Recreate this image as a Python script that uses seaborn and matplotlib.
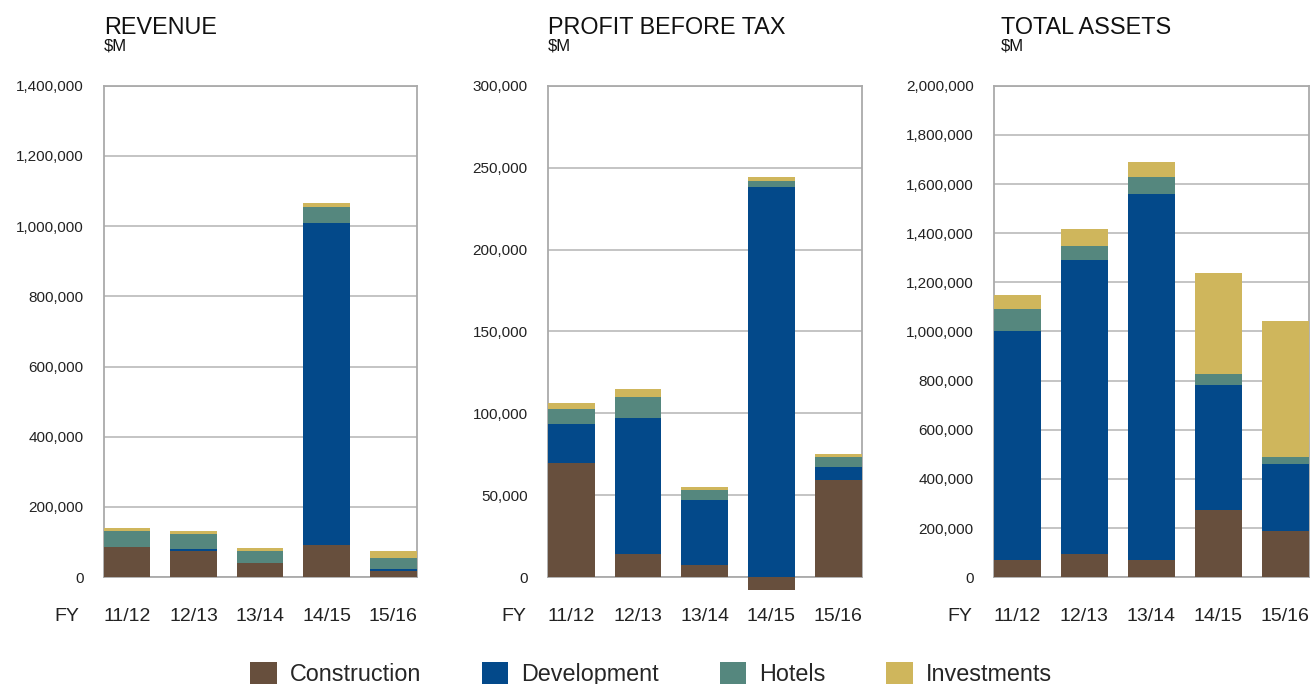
import numpy as np
import seaborn as sns
import matplotlib.pyplot as plt
from matplotlib.ticker import FuncFormatter
from matplotlib.patches import Patch

years = ['11/12', '12/13', '13/14', '14/15', '15/16']
segments = ['Construction', 'Development', 'Hotels', 'Investments']
colors = ['#674f3d', '#03498a', '#55877e', '#cfb65c']

# valores ($M)
revenue_construction = [85500, 74100, 39900, 91200, 17100]
revenue_development = [0, 5700, 0, 917600, 5700]
revenue_hotels = [45600, 42700, 34200, 45600, 31300]
revenue_investments = [9400, 8600, 8500, 11300, 20000]

profit_construction = [69500, 14000, 7300, -7700, 59100]
profit_development = [23800, 82900, 39600, 238300, 7900]
profit_hotels = [9100, 12800, 6100, 3600, 6100]
profit_investments = [3700, 4900, 1800, 2500, 2400]

assets_construction = [70400, 94800, 70400, 273800, 188400]
assets_development = [931600, 1196000, 1488900, 508500, 272500]
assets_hotels = [89500, 56900, 69100, 44700, 28500]
assets_investments = [56900, 69200, 61100, 410900, 553200]

panels = [
    ('REVENUE', [revenue_construction, revenue_development, revenue_hotels, revenue_investments], 1400000, 200000),
    ('PROFIT BEFORE TAX', [profit_construction, profit_development, profit_hotels, profit_investments], 300000, 50000),
    ('TOTAL ASSETS', [assets_construction, assets_development, assets_hotels, assets_investments], 2000000, 200000),
]

sns.set_theme(style='white')
plt.rcParams['font.family'] = ['Liberation Sans', 'DejaVu Sans']

W, H = 1312, 684
fig = plt.figure(figsize=(W / 100, H / 100), dpi=100)

# posições em pixels: esquerda, direita, título x, FY x
boxes = [(103.7, 416.5, 104, 54), (548, 861.5, 548, 501), (994, 1308.5, 1001, 947)]
top_px, bottom_px = 85.7, 577.2

for (title, series, ymax, step), (lpx, rpx, tx, fx) in zip(panels, boxes):
    ax = fig.add_axes([lpx / W, 1 - bottom_px / H, (rpx - lpx) / W, (bottom_px - top_px) / H])

    pos_base = np.zeros(len(years))
    neg_base = np.zeros(len(years))
    for vals, c in zip(series, colors):
        vals = np.array(vals, dtype=float)
        bottoms = np.where(vals >= 0, pos_base, neg_base)
        sns.barplot(x=years, y=vals, order=years, color=c, saturation=1, width=0.7,
                    errorbar=None, bottom=bottoms, linewidth=0, clip_on=False,
                    zorder=3, ax=ax)
        pos_base = pos_base + np.where(vals >= 0, vals, 0)
        neg_base = neg_base + np.where(vals < 0, vals, 0)

    ax.set_xlim(-0.35, len(years) - 0.65)
    ax.set_ylim(0, ymax)
    ax.set_yticks(np.arange(0, ymax + 1, step))
    ax.yaxis.set_major_formatter(FuncFormatter(lambda v, p: f'{int(v):,}'))
    ax.grid(axis='y', color='#b4b4b4', linewidth=1.1, zorder=0)
    ax.set_axisbelow(True)
    ax.set_xlabel('')
    ax.set_ylabel('')
    ax.tick_params(axis='y', length=0, pad=14.5, labelsize=11, labelcolor='#222222')
    ax.tick_params(axis='x', length=0, pad=22.5, labelsize=14, labelcolor='#222222')
    for s in ax.spines.values():
        s.set_color('#aaaaaa')
        s.set_linewidth(1.3)

    fig.text(tx / W, 1 - 34 / H, title, fontsize=16.8, color='#111111', va='baseline')
    fig.text(tx / W, 1 - 50.3 / H, '$M', fontsize=12, color='#111111', va='baseline')
    fig.text(fx / W, 1 - 621 / H, 'FY', fontsize=14, color='#222222', va='baseline')

handles = [Patch(facecolor=c, edgecolor='none', label=s) for s, c in zip(segments, colors)]
fig.legend(handles=handles, loc='center', bbox_to_anchor=(651 / W, 1 - 674 / H), ncol=4,
           frameon=False, fontsize=16.8, handlelength=1.15, handleheight=1.15,
           handletextpad=0.55, columnspacing=2.6, borderpad=0, borderaxespad=0)

fig.savefig('out.png', dpi=100)
